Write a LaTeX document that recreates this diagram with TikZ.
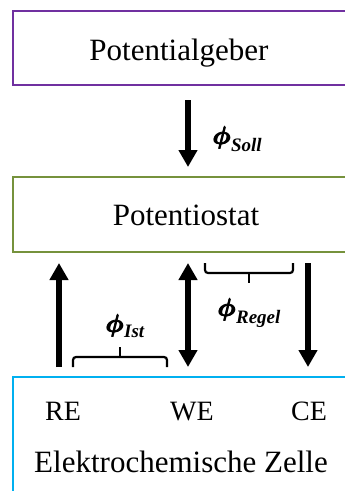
\documentclass[tikz,border=0pt]{standalone}
\usepackage{fontspec}
\setmainfont{Liberation Serif}
\usetikzlibrary{arrows.meta}
\definecolor{boxpurple}{RGB}{112,48,160}
\definecolor{boxgreen}{RGB}{118,146,60}
\definecolor{boxcyan}{RGB}{0,176,240}
\newcommand{\onephi}{\mbox{\boldmath$\phi$}}
\newcommand{\bphi}{\rlap{\onephi}\rlap{\kern0.6pt\onephi}\rlap{\raisebox{0.5pt}{\kern0.3pt\onephi}}\kern1.2pt\onephi}
\begin{document}
\begin{tikzpicture}[x=1pt,y=-1pt,
  frame/.style={draw, line width=2pt, inner sep=0pt, outer sep=0pt, anchor=north west},
  big/.style={font=\fontsize{31}{31}\selectfont, inner sep=0pt, anchor=base},
  ele/.style={font=\fontsize{28}{28}\selectfont, inner sep=0pt, anchor=base},
  arr/.style={line width=5.5pt, -{Triangle[width=18pt,length=17pt]}},
  darr/.style={line width=5.5pt, {Triangle[width=18pt,length=17pt]}-{Triangle[width=18pt,length=17pt]}},
  bracket/.style={line width=2.2pt, rounded corners=3pt},
  phil/.style={inner sep=0pt, anchor=base west, font=\fontsize{25}{25}\selectfont\bfseries\itshape}]
\path[use as bounding box] (0,0) rectangle (345,491);
\clip (0,0) rectangle (345,491);
% boxes
\node[frame, draw=boxpurple, minimum width=345pt, minimum height=74.5pt] (pgbox) at (13,10.5) {};
\node[frame, draw=boxgreen, minimum width=345pt, minimum height=75pt] (psbox) at (13,177) {};
\node[frame, draw=boxcyan, minimum width=345pt, minimum height=130pt] (cellbox) at (13,377) {};
% texts
\node[big] (pgtext) at (179,60) {Potentialgeber};
\node[big] (pstext) at (186,225) {Potentiostat};
\node[ele] (re) at (63,420) {RE};
\node[ele] (we) at (192,420) {WE};
\node[ele] (ce) at (309,420) {CE};
\node[big] (celltext) at (181,472) {Elektrochemische Zelle};
% arrow end points
\coordinate (s1) at (188,100);
\coordinate (s2) at (188,167);
\coordinate (r1) at (59,367);
\coordinate (r2) at (59,263);
\coordinate (w1) at (188,263);
\coordinate (w2) at (188,367);
\coordinate (c1) at (308,263);
\coordinate (c2) at (308,367);
\draw[arr] (s1) -- (s2);
\draw[arr] (r1) -- (r2);
\draw[darr] (w1) -- (w2);
\draw[arr] (c1) -- (c2);
% brackets
\draw[bracket] (205,263) -- (205,273) -- (293,273) -- (293,263);
\draw[line width=2.2pt] (249,273) -- (249,283);
\draw[bracket] (73,367) -- (73,357) -- (167,357) -- (167,367);
\draw[line width=2.2pt] (120,357) -- (120,347);
% labels
\node[phil] (soll) at (212,144) {\bphi\raisebox{-7pt}{\fontsize{19}{19}\selectfont Soll}};
\node[phil] (ist) at (105,332) {\bphi\raisebox{-5pt}{\fontsize{19}{19}\selectfont Ist}};
\node[phil] (regel) at (217,316) {\bphi\raisebox{-7pt}{\fontsize{19}{19}\selectfont Regel}};
\end{tikzpicture}
\end{document}
